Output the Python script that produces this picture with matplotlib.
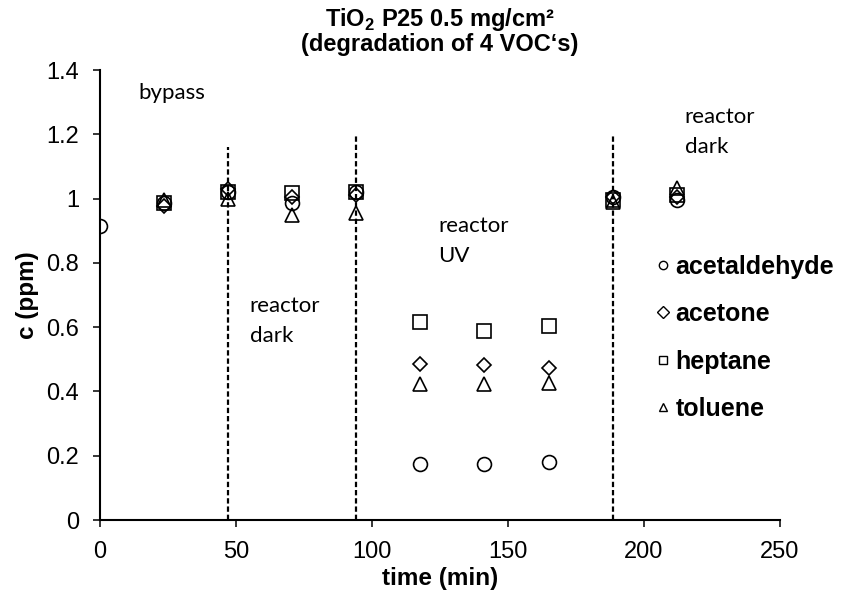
import numpy as np
import matplotlib
matplotlib.use("Agg")
import matplotlib.pyplot as plt

plt.rcParams['font.family'] = ['Liberation Sans', 'DejaVu Sans']
plt.rcParams['mathtext.fontset'] = 'custom'
plt.rcParams['mathtext.rm'] = 'Liberation Sans'
plt.rcParams['mathtext.bf'] = 'Liberation Sans:bold'

# sampling times (min)
time = [0, 23.6, 47.1, 70.7, 94.2, 117.8, 141.3, 164.9, 188.6, 212.0]

# concentrations (ppm), None = not measured
acetaldehyde = [0.916, 0.985, 1.02, 0.987, 1.02, 0.174, 0.174, 0.181, 1.005, 0.995]
acetone = [None, 0.978, 1.03, 1.005, 1.01, 0.484, 0.482, 0.474, 1.005, 1.005]
heptane = [None, 0.985, 1.02, 1.017, 1.022, 0.617, 0.589, 0.605, 0.995, 1.01]
toluene = [None, 0.995, 1.0, 0.949, 0.956, 0.422, 0.422, 0.425, 0.99, 1.033]

series = [("acetaldehyde", acetaldehyde, "o", 10),
          ("acetone", acetone, "D", 7),
          ("heptane", heptane, "s", 10),
          ("toluene", toluene, "^", 10)]

# phase change lines: position and top
switch_t = [47.1, 94.2, 188.6]
switch_top = [1.16, 1.2, 1.2]

# phase labels: lines, left x, first baseline y
phase_labels = [(["bypass"], 14, 1.31),
                (["reactor", "dark"], 55, 0.647),
                (["reactor", "UV"], 124.3, 0.896),
                (["reactor", "dark"], 215, 1.235)]
line_step = 0.0935

fig = plt.figure(figsize=(8.42, 6.03), dpi=100)
ax = fig.add_axes([0.1188, 0.1376, 0.8076, 0.7463])

for t, top in zip(switch_t, switch_top):
    ax.plot([t, t], [0, top], color="black", linestyle=(0, (2.4, 1.3)), linewidth=1.6, zorder=1)

for name, vals, mk, ms in series:
    y = np.array([np.nan if v is None else v for v in vals])
    ax.plot(time, y, linestyle="none", marker=mk, markersize=ms,
            markerfacecolor="none", markeredgecolor="black", markeredgewidth=1.2,
            label=name, zorder=3)

for lines, x, y in phase_labels:
    for i, txt in enumerate(lines):
        ax.text(x, y - i * line_step, txt, fontsize=16, family=['Lato', 'DejaVu Sans'],
                va="baseline", ha="left")

ax.set_xlim(0, 250)
ax.set_ylim(0, 1.4)
ax.set_xticks(np.arange(0, 251, 50))
ax.set_yticks(np.arange(0, 1.41, 0.2))
ax.set_yticklabels(["0", "0.2", "0.4", "0.6", "0.8", "1", "1.2", "1.4"])
ax.tick_params(labelsize=17, direction="out", length=5, width=1.1, pad=10)
for s in ["top", "right"]:
    ax.spines[s].set_visible(False)
for s in ["left", "bottom"]:
    ax.spines[s].set_linewidth(1.5)

ax.set_xlabel("time (min)", fontsize=17.5, fontweight="bold", labelpad=3)
ax.set_ylabel("c (ppm)", fontsize=17.5, fontweight="bold", labelpad=5)
ax.set_title("TiO$_\\mathbf{2}$ P25 0.5 mg/cm²\n(degradation of 4 VOC‘s)",
             fontsize=17, fontweight="bold", linespacing=1.0, pad=14)

leg = ax.legend(loc="upper left", bbox_to_anchor=(0.819, 0.59), frameon=False,
                prop={"weight": "bold", "size": 18},
                handletextpad=0.25, labelspacing=0.94, handlelength=0.5,
                borderaxespad=0, borderpad=0)
for h in leg.legend_handles:
    h.set_markersize(6)
    h.set_markeredgewidth(1.0)

fig.savefig("out.png", dpi=100)
